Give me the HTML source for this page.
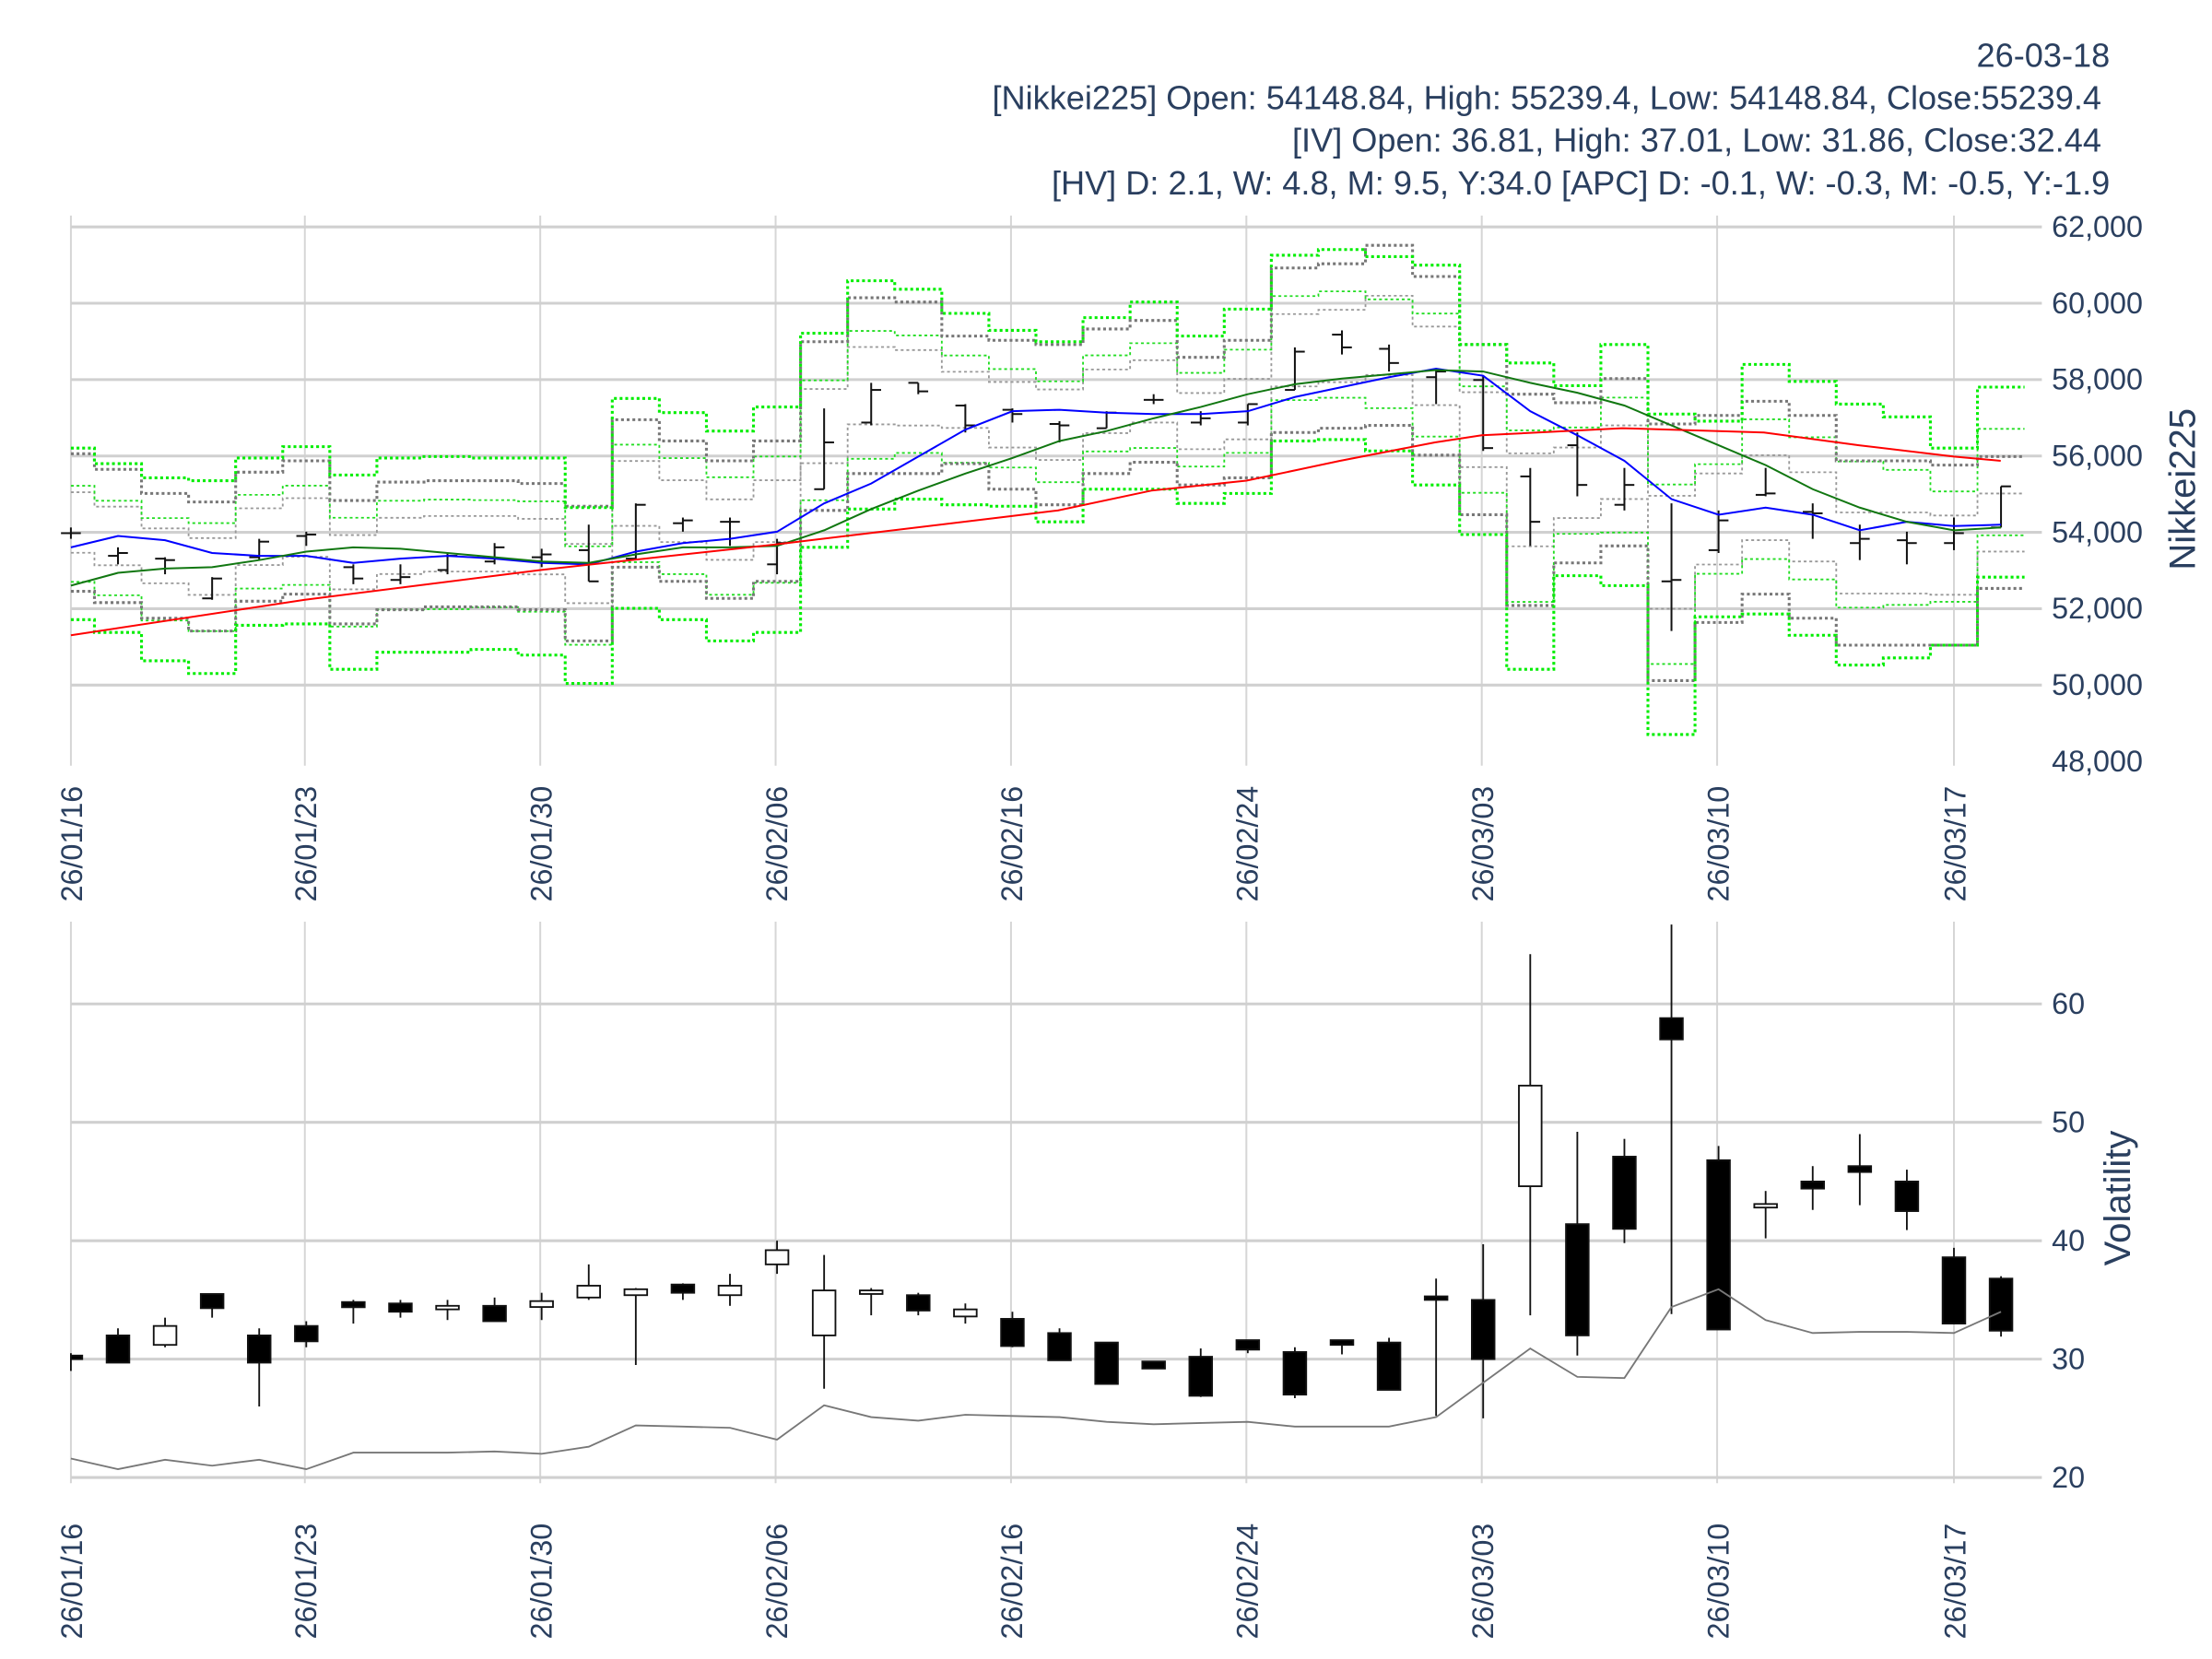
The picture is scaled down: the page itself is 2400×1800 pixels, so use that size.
<!DOCTYPE html>
<html><head><meta charset="utf-8"><style>
html,body{margin:0;padding:0;background:#fff;}
svg{display:block;}
text{font-family:"Liberation Sans",sans-serif;fill:#2a3f5f;}
</style></head><body>
<svg id="s" width="2400" height="1800" viewBox="0 0 1560 1170" xmlns="http://www.w3.org/2000/svg">
<rect width="1560" height="1170" fill="#fff"/>
<g id="g"></g>
<text x="1488" y="47" font-size="23.5" text-anchor="end">26-03-18</text>
<text x="1482" y="77" font-size="23.5" text-anchor="end">[Nikkei225] Open: 54148.84, High: 55239.4, Low: 54148.84, Close:55239.4</text>
<text x="1482" y="107" font-size="23.5" text-anchor="end">[IV] Open: 36.81, High: 37.01, Low: 31.86, Close:32.44</text>
<text x="1488" y="137" font-size="23.5" text-anchor="end">[HV] D: 2.1, W: 4.8, M: 9.5, Y:34.0 [APC] D: -0.1, W: -0.3, M: -0.5, Y:-1.9</text>
<text transform="translate(1548,345) rotate(-90)" font-size="26" text-anchor="middle">Nikkei225</text>
<text transform="translate(1502,845) rotate(-90)" font-size="26" text-anchor="middle">Volatility</text>
</svg>
<script>
var NS="http://www.w3.org/2000/svg",G=document.getElementById("g");
function el(t,a,txt){var e=document.createElementNS(NS,t);for(var k in a)e.setAttribute(k,a[k]);if(txt!=null)e.textContent=txt;G.appendChild(e);return e;}
function X(i){return 50+33.2*i;}
var grid=[50,215,381,547,713,879,1045,1211,1378],dl=["26/01/16","26/01/23","26/01/30","26/02/06","26/02/16","26/02/24","26/03/03","26/03/10","26/03/17"];
grid.forEach(function(x,k){
 el("line",{x1:x,x2:x,y1:152,y2:540,stroke:"#d6d6d6","stroke-width":1.3});
 el("line",{x1:x,x2:x,y1:650,y2:1046,stroke:"#d6d6d6","stroke-width":1.3});
 el("text",{transform:"translate("+(x+8)+",636) rotate(-90)","font-size":21},dl[k]);
 el("text",{transform:"translate("+(x+8)+",1156) rotate(-90)","font-size":21},dl[k]);
});
for(var v=62000,k=0;v>=48000;v-=2000,k++){var y=160+k*53.86;
 if(v>48000)el("line",{x1:50,x2:1440,y1:y,y2:y,stroke:"#d0d0d0","stroke-width":2});
 el("text",{x:1447,y:y+7,"font-size":21},v.toLocaleString("en-US"));}
function VY(v){return 1042-(v-20)*8.35;}
[60,50,40,30,20].forEach(function(v){var y=VY(v);el("line",{x1:50,x2:1440,y1:y,y2:y,stroke:"#d0d0d0","stroke-width":2});el("text",{x:1447,y:y+7,"font-size":21},v);});
var gu=[316,327,337,339,323,315,335,323,322,323,323,358,281,291,304,287,235,198,204,221,233,241,224,213,237,218,180,176,181,187,243,256,272,243,292,297,257,269,285,294,316,273];
var gl=[437,446,466,475,441,440,472,460,460,458,462,482,429,437,452,446,386,359,352,356,357,368,345,345,355,348,311,310,318,342,377,472,406,413,518,435,433,448,469,464,455,407];
var yu=[320,331,348,354,333,325,353,340,339,339,341,357,296,311,325,311,241,210,213,237,240,243,232,226,252,240,189,186,173,195,243,278,284,267,299,293,283,293,325,325,328,322];
var yl=[417,425,436,445,424,419,440,430,428,428,430,452,400,410,422,410,360,334,334,327,345,356,334,326,342,337,305,302,300,321,363,427,397,385,480,439,419,436,455,455,455,415];
function step(a,col,w,dash){var d="";for(var i=0;i<a.length;i++){var x0=Math.max(50,X(i)-16.6),x1=X(i)+16.6;d+=(i?"L":"M")+x0+","+a[i]+"L"+x1+","+a[i];}
 el("path",{d:d,fill:"none",stroke:col,"stroke-width":w,"stroke-dasharray":dash});}
function mix(a,b,f){return a.map(function(v,i){return v+(b[i]-v)*f;});}
step(mix(yu,yl,0.28),"#999",1.2,"2,2");step(mix(yu,yl,0.72),"#999",1.2,"2,2");
step(mix(gu,gl,0.22),"#22dd22",1.2,"2,2");step(mix(gu,gl,0.78),"#22dd22",1.2,"2,2");
step(yu,"#777",2,"2,2");step(yl,"#777",2,"2,2");
step(gu,"#00ee00",2,"2,2");step(gl,"#00ee00",2,"2,2");
var hl=[[372,380],[386,398],[393,405],[407,423],[380,395],[375,385],[398,412],[398,412],[390,405],[383,398],[387,400],[370,410],[355,395],[365,375],[365,385],[380,405],[288,345],[270,300],[270,278],[285,305],[288,298],[297,312],[290,302],[278,285],[290,300],[285,300],[245,275],[233,250],[243,262],[260,285],[265,318],[330,385],[305,350],[330,360],[355,445],[360,390],[330,350],[355,380],[370,395],[375,398],[365,388],[343,372]];
var oc=[[376,376],[392,390],[394,395],[422,408],[393,382],[378,377],[400,408],[409,407],[402,392],[396,386],[393,391],[388,410],[394,356],[369,367],[368,368],[398,383],[345,312],[298,275],[270,276],[286,300],[289,292],[299,300],[302,291],[282,282],[298,295],[298,285],[275,248],[236,245],[246,256],[266,262],[268,316],[336,368],[314,342],[356,342],[410,409],[388,367],[349,348],[361,362],[383,380],[381,383],[383,376],[372,343]];
hl.forEach(function(h,i){var x=X(i);el("line",{x1:x,x2:x,y1:h[0],y2:h[1],stroke:"#111","stroke-width":1.3});
 el("line",{x1:x-7,x2:x,y1:oc[i][0],y2:oc[i][0],stroke:"#111","stroke-width":1.3});
 el("line",{x1:x,x2:x+7,y1:oc[i][1],y2:oc[i][1],stroke:"#111","stroke-width":1.3});});
function poly(p,col,w){el("polyline",{points:p.map(function(q){return q.join(",");}).join(" "),fill:"none",stroke:col,"stroke-width":w});}
var blue=[386,378,381,390,392,392,397,394,392,394,397,398,389,383,380,375,355,341,322,303,290,289,291,292,292,290,280,273,266,260,265,290,307,325,352,363,358,363,374,368,371,370];
var green=[413,404,401,400,395,389,386,387,390,393,396,397,391,386,386,385,374,359,346,334,323,311,304,295,287,278,271,267,264,261,262,270,277,286,300,314,328,345,358,368,374,372];
poly(blue.map(function(y,i){return[X(i),y];}),"#0000ff",1.3);
poly(green.map(function(y,i){return[X(i),y];}),"#117711",1.3);
poly([[50,448],[215,423],[381,402],[547,384],[613,376],[713,364],[746,360],[812,346],[879,339],[945,325],[1012,312],[1045,307],[1144,302],[1244,305],[1311,314],[1378,322],[1411,325]],"#ff0000",1.3);
var c=[[30.3,30.5,29,30],[32,32.6,29.7,29.7],[31.2,33.5,31,32.8],[35.5,35.5,33.5,34.3],[32,32.6,26,29.7],[32.8,33.2,31,31.5],[34.7,35,33,34.5],[34.7,35,33.5,34],[34.2,35,33.3,34.5],[34.5,35.2,33.2,33.2],[34.4,35.6,33.3,34.9],[35.2,38,35,36.2],[35.4,36,29.5,35.9],[36.3,36.4,35,35.6],[35.4,37.2,34.5,36.2],[38,40,37.2,39.2],[32,38.8,27.5,35.8],[35.5,36,33.7,35.8],[35.4,35.6,33.7,34.1],[33.6,34.7,33,34.2],[33.4,34,31,31.1],[32.2,32.6,29.9,29.9],[31.4,31.4,27.9,27.9],[29.8,29.8,29.2,29.2],[30.2,30.9,26.8,26.9],[31.6,31.6,30.5,30.8],[30.6,31,26.7,27],[31.6,31.6,30.4,31.2],[31.4,31.8,27.4,27.4],[35.3,36.8,25.2,35],[35,39.7,25,30],[44.6,64.2,33.7,53.1],[41.4,49.2,30.3,32],[47.1,48.6,39.8,41],[58.8,66.7,33.8,57],[46.8,48,32.5,32.5],[42.8,44.2,40.2,43.1],[45,46.3,42.6,44.4],[46.3,49,43,45.8],[45,46,40.9,42.5],[38.6,39.4,33,33],[36.8,37,31.9,32.4]];
c.forEach(function(d,i){var x=X(i),up=d[3]>=d[0];
 el("line",{x1:x,x2:x,y1:VY(d[1]),y2:VY(d[2]),stroke:"#111","stroke-width":1.2});
 var t=VY(Math.max(d[0],d[3])),b=VY(Math.min(d[0],d[3]));if(b-t<2){t-=1;b+=1;}
 var x0=i==0?50:x-8,w=i==0?8:16;
 el("rect",{x:x0,y:t,width:w,height:b-t,fill:up?"#fff":"#000",stroke:"#111","stroke-width":1.2});});
var hv=[21.6,20.7,21.5,21,21.5,20.7,22.1,22.1,22.1,22.2,22,22.6,24.4,24.3,24.2,23.2,26.1,25.1,24.8,25.3,25.2,25.1,24.7,24.5,24.6,24.7,24.3,24.3,24.3,25.1,28,30.9,28.5,28.4,34.4,35.9,33.3,32.2,32.3,32.3,32.2,34];
poly(hv.map(function(v,i){return[X(i),VY(v)];}),"#777",1.2);
</script>
</body></html>
